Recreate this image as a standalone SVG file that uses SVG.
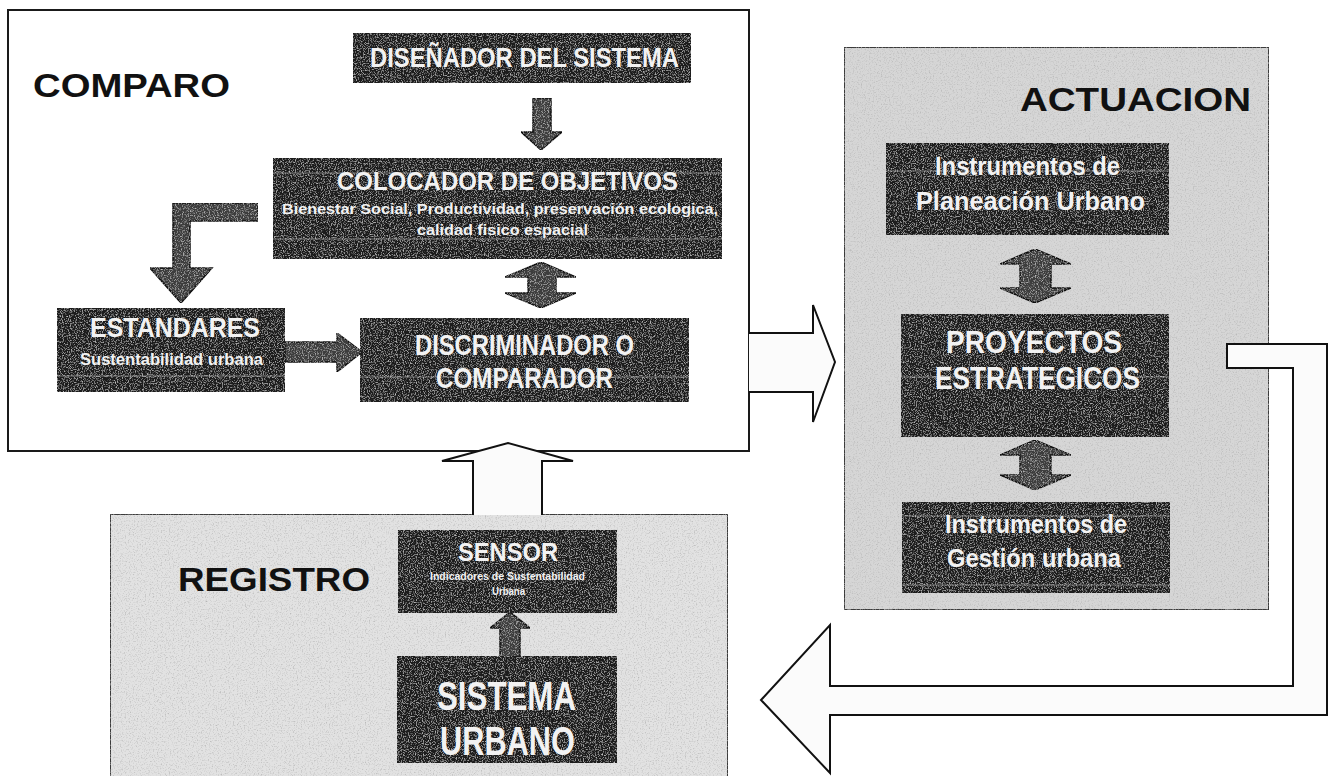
<svg xmlns="http://www.w3.org/2000/svg" width="1328" height="776" viewBox="0 0 1328 776">
<style>
.bg{fill:#ffffff}
.panelW{fill:#ffffff;stroke:#1a1a1a;stroke-width:2}
.panelG{fill:#d6d6d6;stroke:#3a3a3a;stroke-width:2}
.panelL{fill:#e2e2e2;stroke:#3a3a3a;stroke-width:2}
.dark{fill:#1e1e1e}
.scan{stroke:#bdbdbd;stroke-width:1.2;opacity:0.6}
.hollow{fill:#fbfbfb;stroke:#111;stroke-width:2;stroke-linejoin:miter}
.darrow{fill:#3c3c3c;stroke:#111;stroke-width:1.5}
.title{font-family:"Liberation Sans",Arial,sans-serif;font-weight:bold;fill:#111}
.wt{font-family:"Liberation Sans Narrow","Liberation Sans",Arial,sans-serif;font-weight:bold;fill:#f2f2f2}
</style>
<defs>
<filter id="grainDark" x="0" y="0" width="1" height="1">
 <feTurbulence type="fractalNoise" baseFrequency="0.85" numOctaves="2" seed="4" result="n"/>
 <feColorMatrix in="n" type="matrix" values="0 0 0 0 0.55 0 0 0 0 0.55 0 0 0 0 0.55 2.6 0 0 0 -1.3" result="sp"/>
 <feComposite in="sp" in2="SourceGraphic" operator="in" result="spc"/>
 <feMerge><feMergeNode in="SourceGraphic"/><feMergeNode in="spc"/></feMerge>
</filter>
<filter id="grainLight" x="0" y="0" width="1" height="1">
 <feTurbulence type="fractalNoise" baseFrequency="0.75" numOctaves="2" seed="9" result="n"/>
 <feColorMatrix in="n" type="matrix" values="0 0 0 0 0.45 0 0 0 0 0.45 0 0 0 0 0.45 2.2 0 0 0 -1.1" result="sp"/>
 <feComposite in="sp" in2="SourceGraphic" operator="in" result="spc"/>
 <feMerge><feMergeNode in="SourceGraphic"/><feMergeNode in="spc"/></feMerge>
</filter>
</defs>
<rect class="bg" x="0" y="0" width="1328" height="776"/>

<g id="panel-comparo">
 <rect class="panelW" x="8" y="10" width="741" height="441"/>
 <text class="title" x="33" y="97" font-size="34" textLength="197" lengthAdjust="spacingAndGlyphs">COMPARO</text>
</g>
<g id="panel-actuacion">
 <rect class="panelG" x="844" y="47" width="425" height="563" filter="url(#grainLight)"/>
 <text class="title" x="1020" y="111" font-size="34" textLength="231" lengthAdjust="spacingAndGlyphs">ACTUACION</text>
</g>
<g id="panel-registro">
 <rect class="panelL" x="110" y="514" width="618" height="270" filter="url(#grainLight)"/>
 <text class="title" x="178" y="591" font-size="33" textLength="192" lengthAdjust="spacingAndGlyphs">REGISTRO</text>
</g>

<g id="connectors">
 <path class="hollow" d="M749,333 H813 V305 L835,362 L813,422 V392 H749"/>
 <path class="hollow" d="M473,515 V461 H442 L508,443 L573,461 H542 V515"/>
 <path class="hollow" d="M1227,344 H1327 V715 H830 V773 L761,700 L830,625 V686 H1293 V368 H1227 Z"/>
 <path class="darrow" d="M533,98 H551 V132 H562 L541,150 L521,132 H533 Z" filter="url(#grainDark)"/>
 <path class="darrow" d="M541,262 L576,277 H556 V293 H576 L541,308 L505,293 H528 V277 H505 Z" filter="url(#grainDark)"/>
 <path class="darrow" d="M258,203 V221 H190 V268 H212 L181,303 L150,268 H173 V203 Z" filter="url(#grainDark)"/>
 <path class="darrow" d="M285,342 H337 V333 L362,352 L337,372 V362 H285 Z" filter="url(#grainDark)"/>
 <path class="darrow" d="M1035,249 L1071,264 H1051 V288 H1071 L1035,303 L1000,288 H1020 V264 H1000 Z" filter="url(#grainDark)"/>
 <path class="darrow" d="M1035,440 L1071,455 H1051 V475 H1071 L1035,490 L1000,475 H1020 V455 H1000 Z" filter="url(#grainDark)"/>
 <path class="darrow" d="M510,612 L530,628 H520 V657 H500 V628 H490 Z" filter="url(#grainDark)"/>
</g>

<g id="node-disenador">
 <rect class="dark" x="353" y="33" width="338" height="50" filter="url(#grainDark)"/>
 <text class="wt" x="370" y="67" font-size="27" textLength="309" lengthAdjust="spacingAndGlyphs">DISEÑADOR DEL SISTEMA</text>
</g>
<g id="node-colocador">
 <rect class="dark" x="273" y="158" width="449" height="101" filter="url(#grainDark)"/>
 <line class="scan" x1="273" y1="173" x2="722" y2="173"/>
 <line class="scan" x1="273" y1="239" x2="722" y2="239"/>
 <text class="wt" x="337" y="190" font-size="25" textLength="341" lengthAdjust="spacingAndGlyphs">COLOCADOR DE OBJETIVOS</text>
 <text class="wt" x="282" y="214" font-size="15" textLength="436" lengthAdjust="spacingAndGlyphs">Bienestar Social, Productividad, preservación ecologica,</text>
 <text class="wt" x="417" y="235" font-size="15" textLength="171" lengthAdjust="spacingAndGlyphs">calidad fisico espacial</text>
</g>
<g id="node-estandares">
 <rect class="dark" x="57" y="308" width="228" height="84" filter="url(#grainDark)"/>
 <line class="scan" x1="57" y1="376" x2="285" y2="376"/>
 <text class="wt" x="90" y="337" font-size="27" textLength="170" lengthAdjust="spacingAndGlyphs">ESTANDARES</text>
 <text class="wt" x="80" y="365" font-size="16" textLength="183" lengthAdjust="spacingAndGlyphs">Sustentabilidad urbana</text>
</g>
<g id="node-discriminador">
 <rect class="dark" x="360" y="318" width="329" height="84" filter="url(#grainDark)"/>
 <line class="scan" x1="360" y1="377" x2="689" y2="377"/>
 <text class="wt" x="415" y="355" font-size="30" textLength="219" lengthAdjust="spacingAndGlyphs">DISCRIMINADOR O</text>
 <text class="wt" x="436" y="388" font-size="30" textLength="177" lengthAdjust="spacingAndGlyphs">COMPARADOR</text>
</g>
<g id="node-instr-planeacion">
 <rect class="dark" x="886" y="143" width="283" height="92" filter="url(#grainDark)"/>
 <line class="scan" x1="886" y1="171" x2="1169" y2="171"/>
 <text class="wt" x="935" y="175" font-size="25" textLength="185" lengthAdjust="spacingAndGlyphs">Instrumentos de</text>
 <text class="wt" x="916" y="210" font-size="25" textLength="229" lengthAdjust="spacingAndGlyphs">Planeación  Urbano</text>
</g>
<g id="node-proyectos">
 <rect class="dark" x="901" y="314" width="268" height="123" filter="url(#grainDark)"/>
 <line class="scan" x1="901" y1="377" x2="1169" y2="377"/>
 <text class="wt" x="946" y="353" font-size="32" textLength="176" lengthAdjust="spacingAndGlyphs">PROYECTOS</text>
 <text class="wt" x="935" y="389" font-size="32" textLength="205" lengthAdjust="spacingAndGlyphs">ESTRATEGICOS</text>
</g>
<g id="node-instr-gestion">
 <rect class="dark" x="902" y="502" width="268" height="91" filter="url(#grainDark)"/>
 <line class="scan" x1="902" y1="516" x2="1170" y2="516"/>
 <line class="scan" x1="902" y1="585" x2="1170" y2="585"/>
 <text class="wt" x="945" y="533" font-size="25" textLength="182" lengthAdjust="spacingAndGlyphs">Instrumentos de</text>
 <text class="wt" x="947" y="567" font-size="25" textLength="174" lengthAdjust="spacingAndGlyphs">Gestión urbana</text>
</g>
<g id="node-sensor">
 <rect class="dark" x="398" y="530" width="219" height="83" filter="url(#grainDark)"/>
 <text class="wt" x="458" y="561" font-size="25" textLength="100" lengthAdjust="spacingAndGlyphs">SENSOR</text>
 <text class="wt" x="430" y="580" font-size="10" textLength="155" lengthAdjust="spacingAndGlyphs">Indicadores de Sustentabilidad</text>
 <text class="wt" x="492" y="595" font-size="10" textLength="33" lengthAdjust="spacingAndGlyphs">Urbana</text>
</g>
<g id="node-sistema">
 <rect class="dark" x="397" y="656" width="220" height="107" filter="url(#grainDark)"/>
 <text class="wt" x="437" y="710" font-size="40" textLength="139" lengthAdjust="spacingAndGlyphs">SISTEMA</text>
 <text class="wt" x="440" y="755" font-size="40" textLength="135" lengthAdjust="spacingAndGlyphs">URBANO</text>
</g>
</svg>
